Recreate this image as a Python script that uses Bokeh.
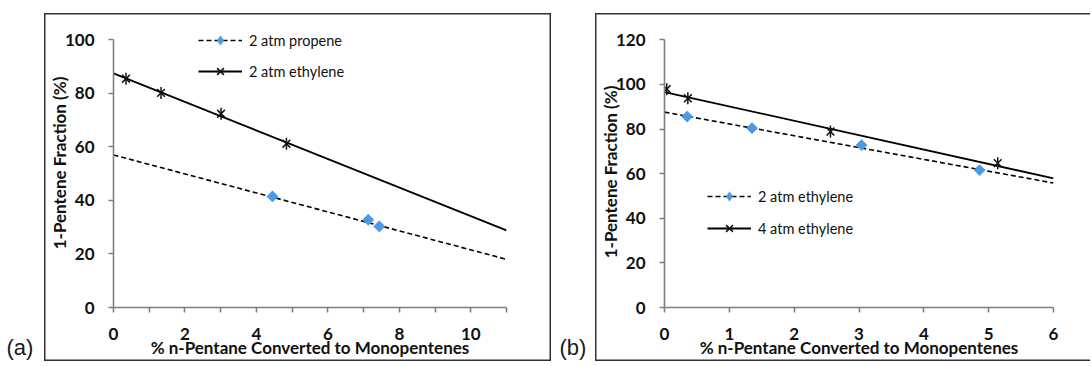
import math
from bokeh.plotting import figure
from bokeh.models import Range1d, Legend, LegendItem, Label, FixedTicker
from bokeh.layouts import row
from bokeh.embed import file_html
from bokeh.resources import INLINE

# ---------------- Panel (a) data ----------------
a_propene_x = [4.45, 7.13, 7.44]
a_propene_y = [41.5, 32.8, 30.3]
a_ethylene_x = [0.35, 1.33, 3.01, 4.84]
a_ethylene_y = [85.5, 80.2, 72.4, 61.2]
a_propene_trend_x = [0, 11]
a_propene_trend_y = [57.0, 18.0]
a_ethylene_trend_x = [0, 11]
a_ethylene_trend_y = [87.5, 28.8]
a_x_major = [0, 2, 4, 6, 8, 10]
a_x_minor = [1, 3, 5, 7, 9, 11]
a_y_ticks = [0, 20, 40, 60, 80, 100]
a_labels = ["2 atm propene", "2 atm ethylene"]

# ---------------- Panel (b) data ----------------
b_2atm_x = [0.35, 1.35, 3.04, 4.86]
b_2atm_y = [85.6, 80.4, 72.8, 61.6]
b_4atm_x = [0.035, 0.36, 2.56, 5.14]
b_4atm_y = [97.9, 93.8, 78.9, 64.7]
b_2atm_trend_x = [0, 6]
b_2atm_trend_y = [87.6, 55.8]
b_4atm_trend_x = [0, 6]
b_4atm_trend_y = [96.6, 57.9]
b_x_ticks = [0, 1, 2, 3, 4, 5, 6]
b_y_ticks = [0, 20, 40, 60, 80, 100, 120]
b_labels = ["2 atm ethylene", "4 atm ethylene"]

x_title = "% n-Pentane Converted to Monopentenes"
y_title = "1-Pentene Fraction (%)"

FONT = "Lato"
BLUE = "#4A9BE2"
AXIS = "#7F7F7F"
BOX = "#333333"
H = 364
MAIN_H = 348
TOP_MARGIN = 13


def tag_figure(width, text, x):
    t = figure(width=width, height=H, output_backend="svg", toolbar_location=None,
               x_axis_type=None, y_axis_type=None,
               x_range=Range1d(0, 1), y_range=Range1d(0, 1),
               min_border=0, min_border_left=0, min_border_right=0,
               min_border_top=0, min_border_bottom=0, frame_align=False)
    t.grid.visible = False
    t.outline_line_color = None
    t.background_fill_color = None
    t.border_fill_color = None
    t.add_layout(Label(x=x, y=5, x_units="screen", y_units="screen", text=text,
                       text_font="Liberation Sans", text_font_size="22px",
                       text_color="#1a1a1a"))
    return t


def make_panel(width, frame_w, top, xr, y_end, y_bound, xmajor, xminor, yticks,
               diam_x, diam_y, dtrend_x, dtrend_y,
               star_x, star_y, strend_x, strend_y,
               labels, leg_loc, leg_spacing, ylab_standoff, shadow):
    left, bottom = 69, 54
    p = figure(width=width, height=MAIN_H, output_backend="svg", toolbar_location=None,
               x_range=Range1d(*xr), y_range=Range1d(0, y_end),
               min_border_left=left, min_border_right=width - left - frame_w,
               min_border_top=top, min_border_bottom=bottom,
               margin=(TOP_MARGIN, 0, 0, 0), frame_align=False,
               styles={"box-shadow": shadow})
    p.outline_line_color = None
    p.grid.visible = False
    p.background_fill_color = None
    p.border_fill_color = None

    # axes
    p.xaxis.ticker = FixedTicker(ticks=xmajor, minor_ticks=xminor)
    p.yaxis.ticker = FixedTicker(ticks=yticks, minor_ticks=[])
    p.yaxis.bounds = (0, y_bound)
    for ax in (p.xaxis, p.yaxis):
        ax.axis_line_color = AXIS
        ax.axis_line_width = 1.6
        ax.major_tick_line_color = AXIS
        ax.major_tick_line_width = 1.6
        ax.minor_tick_line_color = AXIS
        ax.minor_tick_line_width = 1.6
        ax.major_tick_in = 0
        ax.major_tick_out = 5
        ax.minor_tick_in = 0
        ax.minor_tick_out = 5
        ax.major_label_text_font = FONT
        ax.major_label_text_font_style = "bold"
        ax.major_label_text_font_size = "17px"
        ax.major_label_text_color = "#111111"
        ax.axis_label_text_font = FONT
        ax.axis_label_text_font_style = "bold"
        ax.axis_label_text_font_size = "17px"
        ax.axis_label_text_color = "#111111"
    p.xaxis.axis_label = x_title
    p.yaxis.axis_label = y_title
    p.xaxis.major_label_standoff = 15
    p.xaxis.axis_label_standoff = -6
    p.yaxis.major_label_standoff = 14
    p.yaxis.axis_label_standoff = ylab_standoff

    # trend lines
    dl = p.line(dtrend_x, dtrend_y, line_color="black", line_width=1.6, line_dash="5 3")
    sl = p.line(strend_x, strend_y, line_color="black", line_width=1.8)

    # markers: diamond (also used as legend glyph) under a rotated square
    dd = p.scatter(diam_x, diam_y, marker="diamond", size=10,
                   fill_color=BLUE, line_color=BLUE, line_width=0.5)
    p.scatter(diam_x, diam_y, marker="square", size=8, angle=math.pi / 4,
              fill_color=BLUE, line_color=BLUE, line_width=0.5)
    sx = p.scatter(star_x, star_y, marker="x", size=11, line_color="#111111", line_width=1.5)
    sv = p.scatter(star_x, star_y, marker="dash", size=12, angle=math.pi / 2,
                   line_color="#111111", line_width=1.5)

    legend = Legend(items=[LegendItem(label=labels[0], renderers=[dl, dd]),
                           LegendItem(label=labels[1], renderers=[sl, sx, sv])],
                    location=leg_loc, glyph_width=44, glyph_height=24, label_height=20,
                    label_standoff=7, spacing=leg_spacing, padding=0, margin=0,
                    border_line_color=None, background_fill_alpha=0,
                    label_text_font=FONT, label_text_font_size="14.5px",
                    label_text_color="#111111")
    p.add_layout(legend, "center")
    return p


ta = tag_figure(44, "(a)", 6)
pa = make_panel(507, 393, 5, (0, 11), 108, 100, a_x_major, a_x_minor, a_y_ticks,
                a_propene_x, a_propene_y, a_propene_trend_x, a_propene_trend_y,
                a_ethylene_x, a_ethylene_y, a_ethylene_trend_x, a_ethylene_trend_y,
                a_labels, (85, 224), 7, -8,
                "inset 0 0 0 1.5px " + BOX)
tb = tag_figure(44, "(b)", 8)
pb = make_panel(495, 389, 23, (0, 6), 121.5, 120, b_x_ticks, [], b_y_ticks,
                b_2atm_x, b_2atm_y, b_2atm_trend_x, b_2atm_trend_y,
                b_4atm_x, b_4atm_y, b_4atm_trend_x, b_4atm_trend_y,
                b_labels, (43, 67), 8, -8,
                "inset 1.5px 0 0 " + BOX + ", inset 0 1.5px 0 " + BOX + ", inset 0 -1.5px 0 " + BOX)

layout = row(ta, pa, tb, pb)
open("out.html", "w").write(file_html(layout, INLINE))
